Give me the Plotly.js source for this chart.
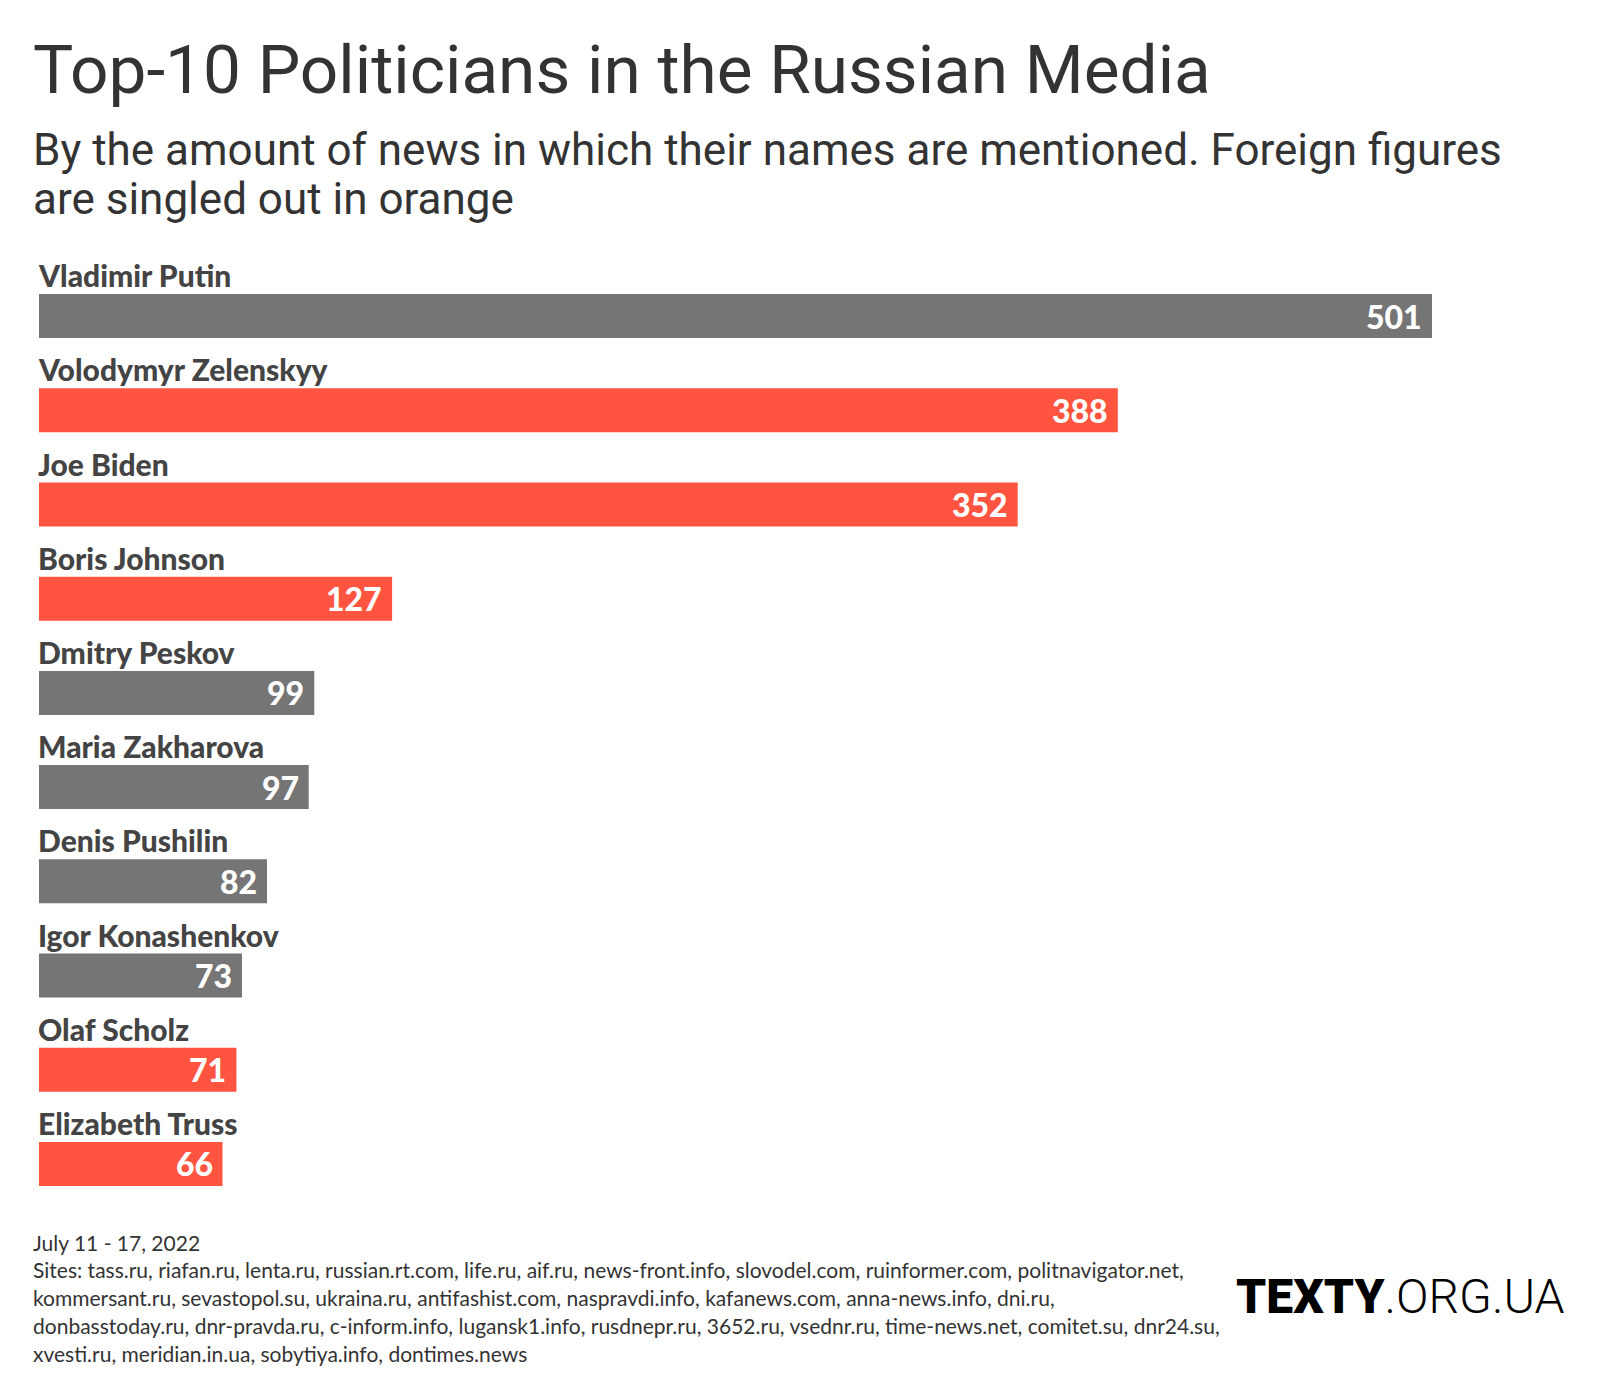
<!DOCTYPE html>
<html>
<head>
<meta charset="utf-8">
<script src="https://cdn.plot.ly/plotly-3.0.1.min.js"></script>
<style>html,body{margin:0;padding:0;background:#fff;}#chart{width:1600px;height:1400px;}</style>
</head>
<body>
<div id="chart"></div>
<script>
const names = ["Vladimir Putin","Volodymyr Zelenskyy","Joe Biden","Boris Johnson","Dmitry Peskov","Maria Zakharova","Denis Pushilin","Igor Konashenkov","Olaf Scholz","Elizabeth Truss"];
const mentions = [501,388,352,127,99,97,82,73,71,66];
const foreign = [false,true,true,true,false,false,false,false,true,true];

const titleText = "Top-10 Politicians in the Russian Media";
const subtitleLines = ["By the amount of news in which their names are mentioned. Foreign figures","are singled out in orange"];
const footerLines = [
  "July 11 - 17, 2022",
  "Sites: tass.ru, riafan.ru, lenta.ru, russian.rt.com, life.ru, aif.ru, news-front.info, slovodel.com, ruinformer.com, politnavigator.net,",
  "kommersant.ru, sevastopol.su, ukraina.ru, antifashist.com, naspravdi.info, kafanews.com, anna-news.info, dni.ru,",
  "donbasstoday.ru, dnr-pravda.ru, c-inform.info, lugansk1.info, rusdnepr.ru, 3652.ru, vsednr.ru, time-news.net, comitet.su, dnr24.su,",
  "xvesti.ru, meridian.in.ua, sobytiya.info, dontimes.news"
];

const GRAY = "#757575", ORANGE = "#ff5540";
const W = 1600, H = 1400;
const M = {l:39, r:168, t:269, b:189};
const pw = W - M.l - M.r, ph = H - M.t - M.b;
const px = x => (x - M.l) / pw;
const py = y => (H - M.b - y) / ph;

const nameFont = {family:"Lato, sans-serif", size:30, color:"#444", weight:900};
const valFont = {family:"Lato, sans-serif", size:32, color:"#fff", weight:900};

const annotations = [];
names.forEach((n,i) => {
  annotations.push({x:0, y:i, xref:"x", yref:"y", text:n, showarrow:false,
    xanchor:"left", yanchor:"bottom", yshift:21, xshift:-3, font:nameFont});
  annotations.push({x:mentions[i], y:i, xref:"x", yref:"y", text:String(mentions[i]), showarrow:false,
    xanchor:"right", yanchor:"middle", xshift:-8, font:valFont});
});
annotations.push({x:px(31), y:py(70), xref:"paper", yref:"paper", text:titleText, showarrow:false,
  xanchor:"left", yanchor:"middle", font:{family:"Roboto, sans-serif", size:67.5, color:"#333"}});
subtitleLines.forEach((t,i) => {
  annotations.push({x:px(31), y:py(150 + i*49), xref:"paper", yref:"paper", text:t, showarrow:false,
    xanchor:"left", yanchor:"middle", font:{family:"Roboto, sans-serif", size:44, color:"#333"}});
});
footerLines.forEach((t,i) => {
  annotations.push({x:px(31), y:py(1242 + i*27.8), xref:"paper", yref:"paper", text:t, showarrow:false,
    xanchor:"left", yanchor:"middle", font:{family:"Lato, sans-serif", size:21, color:"#333"}});
});
annotations.push({x:px(1566), y:py(1296), xref:"paper", yref:"paper",
  text:'<span style="font-weight:900">TEXTY</span>.ORG.UA', showarrow:false,
  xanchor:"right", yanchor:"middle", font:{family:"Roboto, sans-serif", size:48, color:"#000", weight:300}});

const trace = {
  type:"bar", orientation:"h", x:mentions, y:names.map((n,i)=>i),
  marker:{color:foreign.map(f => f ? ORANGE : GRAY), line:{width:0}},
  hoverinfo:"none"
};
const layout = {
  width:W, height:H, margin:M, paper_bgcolor:"#fff", plot_bgcolor:"#fff",
  bargap:0.533, showlegend:false,
  xaxis:{range:[0,501], visible:false, fixedrange:true},
  yaxis:{range:[9.5,-0.5], visible:false, fixedrange:true, tickvals:names.map((n,i)=>i), ticktext:names},
  annotations:annotations
};
Plotly.newPlot("chart",[trace],layout,{staticPlot:true});
</script>
</body>
</html>
